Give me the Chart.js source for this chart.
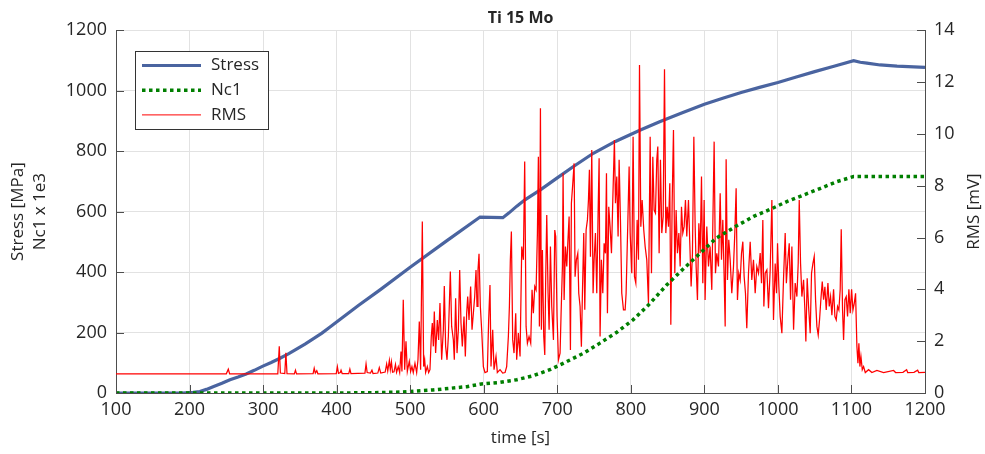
<!DOCTYPE html>
<html>
<head>
<meta charset="utf-8">
<title>Ti 15 Mo</title>
<script src="https://cdn.jsdelivr.net/npm/chart.js"></script>
<style>
  body { margin: 0; background: #fff; }
</style>
</head>
<body>
<canvas id="tiChart" width="985" height="454"></canvas>
<script>
// time [s] / stress [MPa]
const stressTime = [100, 190, 205, 214, 223, 232, 244, 255, 266, 277, 288, 299, 311, 323, 335, 346, 357, 368, 380, 391,
  404, 430, 459, 500, 550, 595, 610, 626, 634, 645, 656, 677, 699, 722, 749, 779, 813, 840, 870, 900,
  925, 950, 975, 1000, 1025, 1050, 1075, 1103, 1112, 1121, 1139, 1162, 1200];
const stressValue = [0, 0, 2, 5, 12, 21, 32, 44, 53, 63, 75, 88, 101, 115, 130, 146, 162, 179, 198, 218,
  242, 290, 341, 416, 504, 582, 581, 580, 595, 618, 639, 672, 710, 749, 793, 832, 870, 898, 927, 955,
  975, 994, 1011, 1027, 1045, 1063, 1080, 1099, 1094, 1091, 1085, 1081, 1077];

// time [s] / Nc1 x 1e3
const nc1Time = [100, 400, 450, 486, 531, 577, 597, 622, 645, 667, 690, 713, 736, 758, 781, 803, 824, 849, 872, 899,
  916, 944, 967, 990, 1012, 1035, 1058, 1080, 1103, 1200];
const nc1Value = [0, 0, 1, 3, 10, 21, 30, 35, 44, 57, 77, 104, 132, 165, 201, 242, 291, 358, 412, 473,
  512, 553, 584, 608, 633, 655, 677, 699, 716, 716];

// [time s, RMS mV]
const rmsSignal = [
  [100,0.74],[250,0.74],[252.7,0.92],[254.5,0.74],[320,0.74],[322,1.8],[323.5,0.77],[329.5,0.75],[331,1.55],[332.5,0.75],
  [342.5,0.74],[344,0.88],[345.5,0.74],[368,0.75],[369.5,0.96],[371,0.77],[373,0.86],[374.5,0.74],[399.5,0.75],[401,1.02],
  [402.5,0.76],[405,0.79],[406,0.88],[407.5,0.75],[416.5,0.75],[418,0.92],[419.5,0.75],[438.5,0.77],[440,1.12],[441.5,0.79],
  [446,0.77],[448,0.88],[449.5,0.75],[456,0.77],[458,0.98],[460,0.77],[466,0.81],[468,1.12],[469.5,0.85],[471.7,1.26],
  [473,0.9],[474.5,1.2],[476,0.8],[478,0.82],[480,1.1],[481.5,0.8],
  [483.8,1.02],[485.7,0.79],[487.5,1.6],[488.8,0.83],[490.6,3.6],[492.5,0.9],[494.3,2.0],[496.1,0.83],[498.8,1.22],[500.6,0.83],
  [502.4,1.02],[504.2,0.79],[506.5,1.15],[508.8,0.79],[510.6,1.28],[512.4,2.76],[514.2,0.9],[516.5,6.62],[518.3,1.02],[519.7,1.28],
  [521,0.79],[523.3,1.02],[525.1,0.79],[526.9,0.9],[528.7,2.18],[530.1,2.7],[531.5,1.8],[532.8,3.14],[534.6,1.54],[536.9,2.82],
  [538.7,2.05],[540.5,3.47],[542.8,1.28],[545.1,2.44],[546.4,4.13],[548.2,1.8],[550.1,1.28],[551.9,2.18],[554.6,4.69],[556.4,2.57],
  [558.7,2.05],[560,1.28],[561.8,3.66],[563.7,1.54],[565.5,2.44],[567.3,4.75],[569.1,2.7],[570.9,1.8],[573.2,2.95],[575,1.41],
  [576.8,3.08],[578.2,3.72],[580,2.82],[582.2,4.11],[584.1,2.44],[585.9,3.08],[587.7,3.72],[589.5,4.75],[590.9,3.34],[592.2,4.75],
  [593.6,5.37],[595.4,3.34],[597.2,2.44],[599.5,1.02],[601.7,0.79],[604.9,0.83],[606.7,2.82],[608.5,4.17],[609.9,1.02],[612.2,2.44],
  [614,0.9],[616.7,1.41],[618.5,0.79],[622.2,0.9],[625.8,0.77],[629,0.79],[631.2,1.02],[633.5,2.18],[634.9,3.34],[636.2,5.14],
  [637.6,6.23],[639.4,2.05],[641.2,1.54],[643.5,3.08],[644.8,1.28],[647.1,2.31],
  [649.4,1.41],[651.7,5.65],[653.9,5.14],[655.7,8.93],[657.6,2.57],[659.4,1.92],[661.6,2.18],[663.9,1.92],[665.7,3.98],[667.5,3.08],
  [669.4,4.11],[671.2,3.98],[673,6.17],[674.3,9.12],[675.7,2.57],[677.1,10.99],[678.4,2.44],[679.8,5.52],[681.6,2.18],[683,1.47],
  [684.3,4.49],[685.7,6.87],[687.5,3.85],[688.9,2.44],[690.7,5.65],[692.5,3.34],[694.8,2.05],[696.6,6.29],[697.9,6.04],[699.7,2.95],
  [701.6,1.28],[703.8,1.54],[705.2,3.08],[707,4.88],[707.9,8.48],[709.3,3.59],[711.1,5.65],[712.9,4.88],[714.3,5.78],[716.1,6.81],
  [717.9,1.66],[719.2,7.32],[721.1,8.09],[722.9,8.86],[724.2,4.49],[726,5.14],[727.9,5.39],[729.2,3.85],[731,3.34],[732.8,1.79],
  [734.2,3.85],[736,6.17],[737.4,3.21],[739.2,6.29],[741,6.68],[742.4,7.45],[743.7,8.61],[745.1,5.26],[746.9,9.38],[748.7,3.85],
  [750.1,5.14],[751.9,6.17],[753.7,3.85],[755.5,6.94],[756.9,9.06],[758.2,2.18],[760,5.14],[761.9,3.85],[763.7,5.78],[765.5,5.39],
  [766.9,8.48],[768.2,3.08],[770,7.19],[771.8,6.42],[773.7,5.39],[775.5,7.45],[777.7,9.76],[779.1,7.32],[780.9,8.35],[782.7,6.04],
  [784.1,9.0],[785.9,6.68],[787.7,3.85],[790,3.21],[792.3,3.21],[793.6,3.85],[795.9,6.55],[797.7,8.74],[799.1,6.17],[801.3,4.62],
  [803.1,9.89],[805,4.49],[806.8,4.24],[808.6,6.68],[810.4,5.14],[811.8,12.66],[813.6,6.42],[815.4,7.45],[817.6,6.29],[819.5,5.65],
  [821.7,5.14],
  [824,3.46],[826.3,9.89],[828.1,4.62],[829.9,9.12],[831.7,7.06],[833.5,6.94],[835.3,9.0],[836.7,9.51],[838.5,5.39],[840.3,9.0],
  [842.1,6.17],[844,6.81],[845.8,12.49],[847.6,6.17],[849.4,7.19],[851.2,6.42],[853,8.09],[854.4,2.63],[856.2,7.32],[858,10.15],
  [859.8,4.62],[861.6,7.06],[863.4,5.39],[865.3,6.17],[867.1,4.88],[868.9,7.19],[870.7,6.17],[872.5,6.42],[874.3,7.45],[876.1,6.04],
  [878.4,7.45],[880.2,5.78],[882,4.11],[883.8,5.39],[885.7,9.89],[887.5,6.42],[888.8,4.88],[890.6,3.59],[892.5,6.55],[894.3,5.39],
  [896.1,8.35],[897.9,4.24],[899.7,7.45],
  [901,3.59],[903.3,6.42],[905.6,4.88],[907.8,5.65],[910.1,3.98],[913.3,9.7],[915.1,4.62],[916.9,5.39],[919.2,4.88],[921.5,7.71],
  [923.3,5.14],[925.1,6.68],[926.9,4.49],[928.3,2.57],[929.6,9.02],[931.4,4.36],[933.2,5.91],[935.1,5.14],[937.3,3.85],[939.6,4.88],
  [941.4,6.17],[943.2,7.9],[945,3.59],[946.8,4.62],[948.7,4.36],[950.5,5.39],[952.3,5.84],[954.1,4.49],[955.9,3.85],[957.7,2.5],
  [960,4.62],[962.3,5.84],[964.5,4.36],[966.8,5.14],[969.1,3.85],[971.3,4.88],[973.6,4.62],
  [975.9,5.4],[977.7,4.24],[979.5,6.68],[980.9,3.34],[982.7,4.62],[985,4.75],[987.2,3.27],[989.5,4.75],[991.8,7.45],[994,2.82],
  [996.3,5.0],[998.1,3.85],[999.5,5.78],[1001.3,4.1],[1003.1,2.95],[1005.4,2.31],[1007.6,4.37],[1009.9,6.17],[1011.5,4.24],[1013.5,5.14],
  [1015.4,5.78],[1017.2,3.6],[1019,5.65],[1021.3,2.44],[1023.5,4.24],[1025.8,3.72],[1027.6,5.0],[1029,7.45],[1030.8,5.0],[1032.6,3.72],
  [1034.9,4.37],[1036.7,3.2],[1038,1.99],[1039.8,4.43],[1041.7,3.34],[1043.9,2.31],[1045.7,4.62],[1047.6,5.0],[1049.4,5.27],[1051.2,3.6],
  [1053,2.57],[1054.8,2.24],[1056.6,2.82],[1058.4,3.6],[1060.3,4.3],[1062.1,3.6],[1063.9,4.1],[1065.7,3.2],[1068,4.24],[1069.8,3.34],
  [1071.6,3.72],[1073.4,3.0],[1075.7,4.0],[1077.5,2.95],[1079.3,2.82],[1081.1,3.34],[1082.9,3.2],[1084.7,4.0],[1086.1,6.32],[1087.9,3.2],
  [1089.3,2.05],[1091.1,3.6],[1092.9,3.72],[1094.7,2.95],[1096.5,4.0],[1098.3,3.08],[1100.2,4.0],[1102,3.2],[1103.8,3.46],[1105.6,3.85],
  [1107.4,1.8],[1108.8,1.15],[1110.1,1.92],[1111.5,1.02],[1112.9,1.41],[1114.7,0.9],[1116.5,1.02],[1118.8,0.79],[1123.3,0.9],[1127.8,0.79],
  [1134.6,0.87],[1143.7,0.79],[1157.3,0.87],[1160,0.79],[1170,0.8],[1175,0.9],[1176.5,0.79],[1185,0.8],[1190,0.88],[1191.5,0.79],
  [1200,0.8]
];

const xTicks = [100, 200, 300, 400, 500, 600, 700, 800, 900, 1000, 1100, 1200];

const FONT = "'Open Sans', 'Noto Sans', sans-serif";
const TXT = '#262626';
const AXIS = '#4d4d4d';
const GRID = '#e2e2e2';

const legendItems = [
  { label: 'Stress', color: '#4a64a0', width: 3.2, dash: [] },
  { label: 'Nc1', color: '#007f00', width: 3.5, dash: [3.5, 3.5] },
  { label: 'RMS', color: '#ff0000', width: 1, dash: [] }
];

// MATLAB-like inward ticks, boxed legend and the right-hand label
const matlabFrame = {
  id: 'matlabFrame',
  afterDraw(chart) {
    const ctx = chart.ctx;
    const { left, right, top, bottom } = chart.chartArea;
    const sx = chart.scales.x, sy = chart.scales.y, sy1 = chart.scales.y1;
    ctx.save();
    ctx.strokeStyle = AXIS;
    ctx.lineWidth = 1;
    ctx.beginPath();
    sx.ticks.forEach(t => {
      const px = Math.round(sx.getPixelForValue(t.value)) + 0.5;
      ctx.moveTo(px, bottom); ctx.lineTo(px, bottom - 8);
    });
    sy.ticks.forEach(t => {
      const py = Math.round(sy.getPixelForValue(t.value)) + 0.5;
      ctx.moveTo(left, py); ctx.lineTo(left + 8, py);
    });
    sy1.ticks.forEach(t => {
      const py = Math.round(sy1.getPixelForValue(t.value)) + 0.5;
      ctx.moveTo(right, py); ctx.lineTo(right - 8, py);
    });
    ctx.stroke();

    // legend box
    const bx = 135, by = 51, bw = 133, bh = 78;
    ctx.fillStyle = '#fff';
    ctx.fillRect(bx, by, bw, bh);
    ctx.strokeStyle = '#333';
    ctx.strokeRect(bx + 0.5, by + 0.5, bw, bh);
    ctx.font = '17px ' + FONT;
    ctx.textBaseline = 'middle';
    ctx.textAlign = 'left';
    legendItems.forEach((it, i) => {
      const ly = 65.5 + i * 24.7;
      ctx.strokeStyle = it.color;
      ctx.lineWidth = it.width;
      ctx.setLineDash(it.dash);
      ctx.beginPath();
      ctx.moveTo(142, ly); ctx.lineTo(201, ly);
      ctx.stroke();
      ctx.setLineDash([]);
      ctx.fillStyle = TXT;
      ctx.fillText(it.label, 211, ly);
    });

    // right axis title, reading bottom to top
    ctx.translate(974, (top + bottom) / 2);
    ctx.rotate(-Math.PI / 2);
    ctx.textAlign = 'center';
    ctx.fillStyle = TXT;
    ctx.fillText('RMS [mV]', 0, 0);
    ctx.restore();
  }
};

const plainTick = v => String(v);

const ctx = document.getElementById('tiChart').getContext('2d');
new Chart(ctx, {
  type: 'line',
  data: {
    datasets: [
      {
        label: 'Stress',
        data: stressTime.map((t, i) => ({ x: t, y: stressValue[i] })),
        borderColor: legendItems[0].color,
        borderWidth: 3.2,
        yAxisID: 'y',
        order: 3
      },
      {
        label: 'Nc1',
        data: nc1Time.map((t, i) => ({ x: t, y: nc1Value[i] })),
        borderColor: legendItems[1].color,
        borderWidth: 3.5,
        borderDash: [3.5, 3.5],
        yAxisID: 'y',
        order: 1
      },
      {
        label: 'RMS',
        data: rmsSignal.map(p => ({ x: p[0], y: p[1] })),
        borderColor: legendItems[2].color,
        borderWidth: 1.25,
        yAxisID: 'y1',
        order: 2
      }
    ]
  },
  options: {
    responsive: false,
    animation: false,
    devicePixelRatio: 1,
    elements: { point: { radius: 0 }, line: { tension: 0, fill: false } },
    layout: { padding: 0 },
    plugins: {
      legend: { display: false },
      tooltip: { enabled: false },
      title: {
        display: true,
        fullSize: false,
        text: 'Ti 15 Mo',
        color: TXT,
        font: { family: FONT, size: 16, weight: 'bold', lineHeight: 1.2 },
        padding: { top: 9, bottom: 2 }
      }
    },
    scales: {
      x: {
        type: 'linear',
        min: 100,
        max: 1200,
        afterBuildTicks: s => { s.ticks = xTicks.map(v => ({ value: v })); },
        afterFit: s => { s.height = 61; },
        ticks: { color: TXT, font: { family: FONT, size: 18 }, padding: 6, maxRotation: 0, callback: plainTick },
        grid: { color: GRID, drawTicks: false },
        border: { display: true, color: AXIS },
        title: {
          display: true, text: 'time [s]', color: TXT,
          font: { family: FONT, size: 17, lineHeight: 1.3 },
          padding: { top: 0, bottom: 5 }
        }
      },
      y: {
        position: 'left',
        min: 0,
        max: 1200,
        afterFit: s => { s.width = 116; },
        ticks: { stepSize: 200, color: TXT, font: { family: FONT, size: 18 }, padding: 9, callback: plainTick },
        grid: { color: GRID, drawTicks: false },
        border: { display: true, color: AXIS },
        title: {
          display: true, text: ['Stress [MPa]', 'Nc1 x 1e3'], color: TXT,
          font: { family: FONT, size: 17, lineHeight: 1.3 },
          padding: { top: 7, bottom: 0 }
        }
      },
      y1: {
        position: 'right',
        min: 0,
        max: 14,
        afterFit: s => { s.width = 60; },
        ticks: { stepSize: 2, color: TXT, font: { family: FONT, size: 18 }, padding: 9, callback: plainTick },
        grid: { display: false, drawTicks: false },
        border: { display: true, color: AXIS }
      }
    }
  },
  plugins: [matlabFrame]
});
</script>
</body>
</html>
